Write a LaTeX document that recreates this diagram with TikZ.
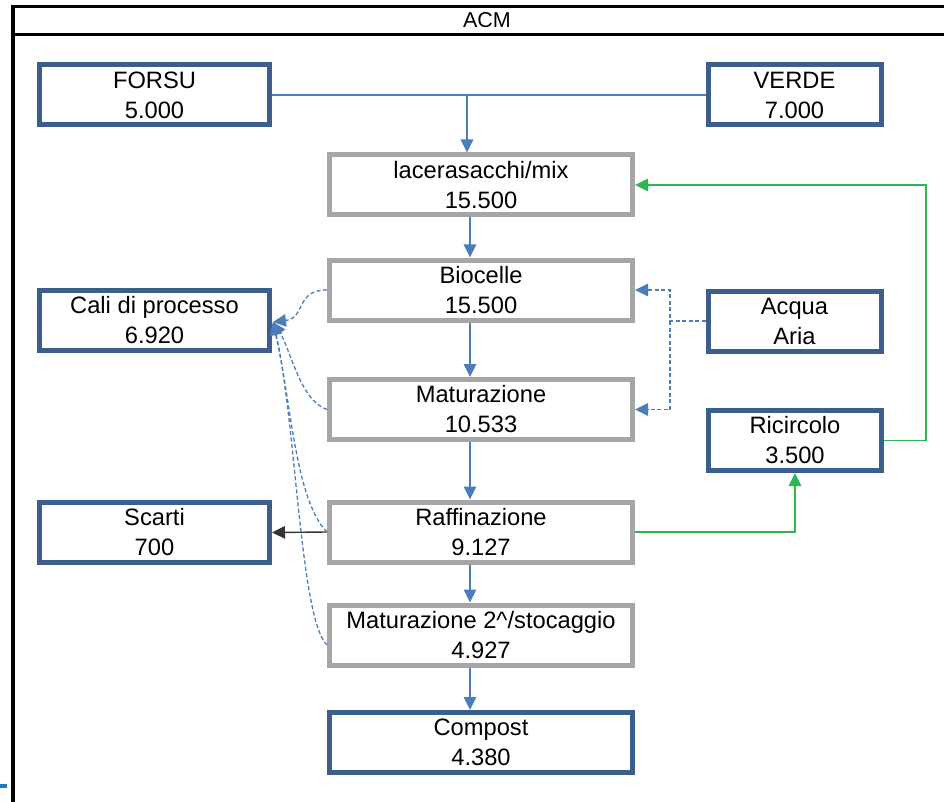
\documentclass[tikz,border=0pt]{standalone}
\usepackage{fontspec}
\setmainfont{Liberation Sans}
\usetikzlibrary{arrows.meta}
\definecolor{boxblue}{RGB}{59,94,140}
\definecolor{boxgrey}{RGB}{166,166,166}
\definecolor{lineblue}{RGB}{74,126,187}
\definecolor{linegreen}{RGB}{46,182,82}
\definecolor{markblue}{RGB}{31,119,200}
\begin{document}
\begin{tikzpicture}[x=1pt,y=-1pt,
  flowbox/.style={line width=5pt, fill=white, align=center,
    font=\fontsize{23.7}{30}\selectfont, inner sep=0pt, minimum height=60pt},
  bluebox/.style={flowbox, draw=boxblue, minimum width=#1},
  greybox/.style={flowbox, draw=boxgrey, minimum width=303pt},
  tip/.style={-{Triangle[length=13pt,width=12.5pt]}},
  flow/.style={color=lineblue, line width=1.6pt},
  flowarr/.style={flow, tip},
  loss/.style={color=lineblue, line width=1.3pt, dash pattern=on 4pt off 2.5pt, tip},
  recyc/.style={color=linegreen, line width=1.6pt, tip},
  reject/.style={color=black!80, line width=1.4pt, tip}]
\useasboundingbox (0,0) rectangle (944,802);
\clip (0,0) rectangle (944,802);
% frame
\draw[line width=3.5pt] (13,810) -- (13,6.5) -- (950,6.5);
\draw[line width=2.5pt] (13,34.5) -- (950,34.5);
\node[font=\fontsize{21.5}{24}\selectfont, anchor=base] (title) at (487,27.5) {ACM};
\fill[markblue] (0,783.5) rectangle (7,788);
% boxes
\node[bluebox=230pt] (forsu) at (154.5,95) {FORSU\\5.000};
\node[bluebox=173pt] (verde) at (794.5,95) {VERDE\\7.000};
\node[greybox] (lace) at (481,185) {lacerasacchi/mix\\15.500};
\node[greybox] (bio) at (481,290) {Biocelle\\15.500};
\node[bluebox=230pt] (cali) at (154.5,320) {Cali di processo\\6.920};
\node[bluebox=173pt] (acq) at (794.5,321) {Acqua\\Aria};
\node[greybox] (mat) at (481,409.5) {Maturazione\\10.533};
\node[bluebox=173pt] (ric) at (795,440.5) {Ricircolo\\3.500};
\node[bluebox=230pt] (scarti) at (154.5,532.5) {Scarti\\700};
\node[greybox] (raf) at (481,532) {Raffinazione\\9.127};
\node[greybox] (mat2) at (481,635) {Maturazione 2\^{}/stocaggio\\4.927};
\node[bluebox=303pt] (comp) at (481,742.5) {Compost\\4.380};
% helper columns
\coordinate (top) at (467,95);
\coordinate (col) at (470,0);
\coordinate (gx) at (926,0);
\coordinate (dx) at (670,0);
\coordinate (ctip) at (273,322);
% main flow
\draw[flow] (forsu.east) -- (verde.west);
\draw[flowarr] (top) -- (lace.north -| top);
\draw[flowarr] (lace.south -| col) -- (bio.north -| col);
\draw[flowarr] (bio.south -| col) -- (mat.north -| col);
\draw[flowarr] (mat.south -| col) -- (raf.north -| col);
\draw[flowarr] (raf.south -| col) -- (mat2.north -| col);
\draw[flowarr] (mat2.south -| col) -- (comp.north -| col);
% recirculation
\draw[recyc] (raf.east) -| (ric.south);
\draw[recyc] (ric.east) -- (ric.east -| gx) |- (lace.east);
% water / air
\draw[loss] (acq.west) -- (acq.west -| dx) |- (bio.east);
\draw[loss] (acq.west -| dx) |- (mat.east);
% rejects
\draw[reject] (raf.west) -- (scarti.east);
% process losses
\draw[loss] (bio.west) .. controls +(-32,0) and +(33,-4) .. (ctip);
\draw[loss] (mat.west) .. controls +(-27,-9) and +(18,28) .. (ctip);
\draw[loss] (raf.west) .. controls +(-32,-32) and +(18,78) .. (ctip);
\draw[loss] ([yshift=-10pt]mat2.west) .. controls +(-27,-25) and +(23,98) .. (ctip);
\end{tikzpicture}
\end{document}
